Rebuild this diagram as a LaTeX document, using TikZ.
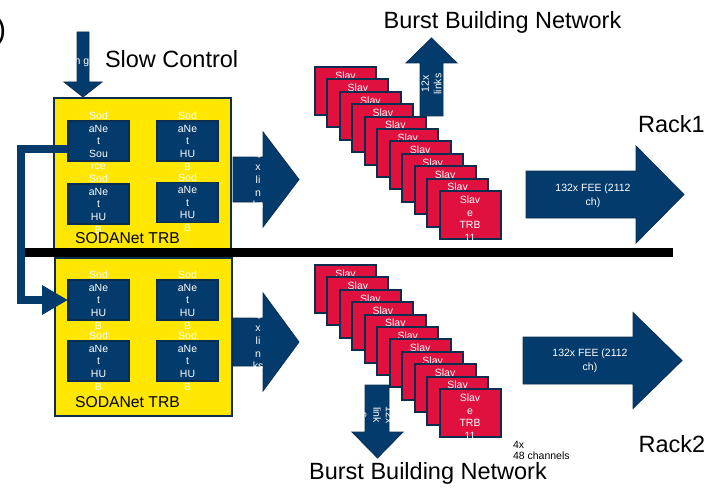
\documentclass[tikz,border=0pt]{standalone}
\usepackage{fontspec}
\setmainfont{Liberation Sans}
\usetikzlibrary{positioning,arrows.meta}

\definecolor{sodablue}{HTML}{033B6C}
\definecolor{sodaline}{HTML}{0C2D50}
\definecolor{trbyellow}{HTML}{FFE700}
\definecolor{slavered}{HTML}{E1113F}

\begin{document}
\begin{tikzpicture}[x=1pt,y=-1pt]
    \tikzstyle{every node}=[inner sep=0,outer sep=0]
    \tikzstyle{big}=[font=\fontsize{23.5}{28}\selectfont,anchor=base]
    \tikzstyle{small}=[font=\fontsize{10.5}{12.6}\selectfont,text=white,align=center]
    \tikzstyle{trb}=[draw=sodaline,line width=1.2,fill=trbyellow,anchor=north west]
    \tikzstyle{trblabel}=[font=\fontsize{15.7}{18}\selectfont,anchor=base]
    \tikzstyle{hub}=[draw=sodaline,line width=1.5,fill=sodablue,minimum width=61,minimum height=40]
    \tikzstyle{slave}=[draw=sodaline,line width=2,fill=slavered,minimum width=61,minimum height=48]
    \tikzstyle{blk}=[draw=sodaline,line width=0.8,fill=sodablue]
    \tikzstyle{feed}=[draw=sodablue,line width=8,line join=miter,-{Triangle[length=26pt,width=28pt]}]

    \useasboundingbox (0,0) rectangle (708,489);

    \node[anchor=base east,font=\fontsize{30}{30}\selectfont] (paren) at (6,40) {)};

    % slow control input
    \draw[blk] (77,32) -- (89,32) -- (89,82) -- (102,82) -- (83,97) -- (64,82) -- (77,82) -- cycle;
    \node[small] (timing) at (82,63) {n g};
    \node[big,anchor=base west] (slowctl) at (105,67.5) {Slow Control};

    % SODANet TRBs
    \node[trb,minimum width=177,minimum height=152] (trbA) at (54,98) {};
    \node[trb,minimum width=177,minimum height=158] (trbB) at (55,258) {};
    \draw[fill=black,draw=none] (24,248) rectangle (673,257);

    \node[hub] (srcA) at (98.5,141) {};
    \node[hub] (hubA1) at (187.5,141) {};
    \node[hub] (hubA2) at (98.5,204) {};
    \node[hub] (hubA3) at (187.5,202.5) {};
    \node[small] at (srcA) {Sod\\aNe\\t\\Sou\\rce};
    \node[small] at (hubA1) {Sod\\aNe\\t\\HU\\B};
    \node[small] at (hubA2) {Sod\\aNe\\t\\HU\\B};
    \node[small] at (hubA3) {Sod\\aNe\\t\\HU\\B};
    \node[trblabel] (labA) at (127.5,243) {SODANet TRB};

    \node[hub] (hubB0) at (98.5,300) {};
    \node[hub] (hubB1) at (187.5,300) {};
    \node[hub] (hubB2) at (98.5,361) {};
    \node[hub] (hubB3) at (187.5,361) {};
    \node[small] at (hubB0) {Sod\\aNe\\t\\HU\\B};
    \node[small] at (hubB1) {Sod\\aNe\\t\\HU\\B};
    \node[small] at (hubB2) {Sod\\aNe\\t\\HU\\B};
    \node[small] at (hubB3) {Sod\\aNe\\t\\HU\\B};
    \node[trblabel] (labB) at (127.5,407) {SODANet TRB};

    % links to the slave boards
    \draw[blk] (233,157) -- (263,157) -- (263,132) -- (299,179.5) -- (263,227) -- (263,202) -- (233,202) -- cycle;
    \node[small] (linkA) at (258,180) {4\\x\\li\\n\\ks};
    \draw[blk] (233,318) -- (263,318) -- (263,293) -- (299,342) -- (263,391) -- (263,366) -- (233,366) -- cycle;
    \node[small] (linkB) at (258,341) {4\\x\\li\\n\\ks};

    % burst building
    \draw[blk] (420,116) -- (420,63) -- (406,63) -- (431.5,38) -- (457,63) -- (443,63) -- (443,116) -- cycle;
    \node[small,rotate=90] (bbnA) at (431.5,84) {12x\\links};
    \node[big] (bbnlabA) at (502.5,28.5) {Burst Building Network};
    \draw[blk] (365,385) -- (365,432) -- (352,432) -- (377.5,458) -- (403,432) -- (389,432) -- (389,385) -- cycle;
    \node[small,rotate=-90] (bbnB) at (377,415) {12x\\link\\s};
    \node[big] (bbnlabB) at (428,479) {Burst Building Network};

    % slave TRB stacks
    \foreach \k in {0,...,10} {
        \pgfmathtruncatemacro\num{\k+1}
        \node[slave] (slvA\num) at (345.5+12.45*\k,91+12.4*\k) {};
        \node[small,yshift=-3.5] at (slvA\num) {Slav\\e\\TRB\\\num};
    }
    \foreach \k in {0,...,10} {
        \pgfmathtruncatemacro\num{\k+1}
        \node[slave] (slvB\num) at (345.5+12.45*\k,289+12.4*\k) {};
        \node[small,yshift=-3.5] at (slvB\num) {Slav\\e\\TRB\\\num};
    }
    \node[anchor=west,align=left,font=\fontsize{10.5}{11}\selectfont] (chan) at (513,450.5) {4x\\48 channels};

    % front-end electronics
    \draw[blk] (526,171) -- (636,171) -- (636,146) -- (684,194.5) -- (636,243) -- (636,218) -- (526,218) -- cycle;
    \node[small,font=\fontsize{10.5}{14}\selectfont] (feeA) at (593,196) {132x FEE (2112\\ch)};
    \node[big] (rackA) at (671.5,132.5) {Rack1};
    \draw[blk] (523,337) -- (633,337) -- (633,312.5) -- (682,360.5) -- (633,408.5) -- (633,384) -- (523,384) -- cycle;
    \node[small,font=\fontsize{10.5}{14}\selectfont] (feeB) at (590,361) {132x FEE (2112\\ch)};
    \node[big] (rackB) at (672,452.5) {Rack2};

    % source feeds the hub of the second rack
    \draw[feed] ([yshift=-8pt]srcA.west) -- ++(-47,0) |- (hubB0.west);
\end{tikzpicture}
\end{document}
